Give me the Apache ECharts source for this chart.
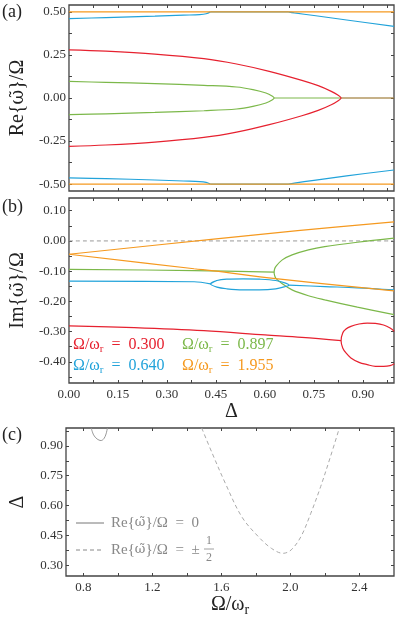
<!DOCTYPE html>
<html>
<head>
<meta charset="utf-8">
<script src="https://cdn.jsdelivr.net/npm/echarts@6/dist/echarts.min.js"></script>
<style>
html, body { margin: 0; padding: 0; background: #fff; }
#main { width: 397px; height: 622px; }
</style>
</head>
<body>
<div id="main"></div>
<script>
// ---- data ----
// panel (a): Re{w}/Omega vs Delta
var reOrangeUp = [[0, 0.5], [0.995, 0.5]];
var reOrangeDn = [[0, -0.5], [0.995, -0.5]];
var reBlueUp = [[0, 0.461], [0.113, 0.467], [0.263, 0.475], [0.35, 0.481], [0.4, 0.484], [0.42, 0.489], [0.433, 0.5]];
var reBlueDn = [[0, -0.464], [0.113, -0.468], [0.263, -0.476], [0.35, -0.482], [0.4, -0.485], [0.42, -0.490], [0.433, -0.5]];
var reBlueFlatUp = [[0.433, 0.5], [0.671, 0.5]];
var reBlueFlatDn = [[0.433, -0.5], [0.671, -0.5]];
var reBlueTailUp = [[0.671, 0.5], [0.69, 0.494], [0.75, 0.479], [0.85, 0.453], [0.995, 0.416]];
var reBlueTailDn = [[0.671, -0.5], [0.69, -0.494], [0.75, -0.478], [0.85, -0.452], [0.995, -0.418]];
var reRedUp = [[0, 0.280], [0.113, 0.272], [0.263, 0.255], [0.413, 0.2285], [0.513, 0.1975], [0.613, 0.155], [0.713, 0.1025],
  [0.763, 0.0715], [0.803, 0.0386], [0.823, 0.017], [0.833, 0]];
var reRedDn = [[0, -0.281], [0.113, -0.273], [0.263, -0.256], [0.413, -0.229], [0.513, -0.198], [0.613, -0.155], [0.713, -0.103],
  [0.763, -0.072], [0.803, -0.039], [0.823, -0.017], [0.833, 0]];
var reRedZero = [[0.833, 0], [0.995, 0]];
var reGreenUp = [[0, 0.096], [0.113, 0.091], [0.263, 0.084], [0.413, 0.0734], [0.513, 0.064], [0.563, 0.049], [0.603, 0.029], [0.623, 0.010], [0.628, 0]];
var reGreenDn = [[0, -0.097], [0.113, -0.092], [0.263, -0.084], [0.413, -0.074], [0.513, -0.064], [0.563, -0.049], [0.603, -0.029], [0.623, -0.010], [0.628, 0]];
var reGreenZero = [[0.628, 0], [0.995, 0]];

// panel (b): Im{w}/Omega vs Delta
var imZero = [[0, 0], [0.995, 0]];
var imOrangeUp = [[0, -0.044], [0.443, 0.006], [0.7, 0.034], [0.995, 0.063]];
var imOrangeDn = [[0, -0.044], [0.383, -0.092], [0.443, -0.099], [0.633, -0.125], [0.995, -0.165]];
var imGreen = [[0, -0.094], [0.383, -0.098], [0.628, -0.1035]];
var imGreenUp = [[0.628, -0.1035], [0.6295, -0.093], [0.633, -0.0848], [0.653, -0.0627], [0.683, -0.0462], [0.733, -0.0297],
  [0.783, -0.0187], [0.883, -0.0044], [0.995, 0.009]];
var imGreenDn = [[0.628, -0.1035], [0.6295, -0.114], [0.633, -0.123], [0.653, -0.142], [0.683, -0.162], [0.733, -0.1815],
  [0.783, -0.195], [0.883, -0.219], [0.995, -0.244]];
var imBlue = [[0, -0.133], [0.383, -0.135], [0.433, -0.142]];
var imBlueLoopUp = [[0.433, -0.142], [0.453, -0.131], [0.483, -0.1265], [0.533, -0.1254], [0.583, -0.1265], [0.633, -0.131], [0.663, -0.1397], [0.673, -0.1463]];
var imBlueLoopDn = [[0.433, -0.142], [0.453, -0.153], [0.483, -0.1584], [0.533, -0.1617], [0.583, -0.1617], [0.633, -0.1584], [0.663, -0.1507], [0.673, -0.1463]];
var imBlueTail = [[0.673, -0.1463], [0.783, -0.151], [0.883, -0.155], [0.995, -0.162]];
var imRed = [[0, -0.281], [0.2, -0.287], [0.413, -0.297], [0.6, -0.311], [0.713, -0.319], [0.833, -0.330]];
var imRedLoopUp = [[0.833, -0.330], [0.838, -0.3046], [0.848, -0.2914], [0.863, -0.2828], [0.888, -0.2749], [0.913, -0.2716],
  [0.938, -0.2729], [0.963, -0.2782], [0.983, -0.2881], [0.996, -0.2993]];
var imRedLoopDn = [[0.833, -0.330], [0.838, -0.354], [0.848, -0.3706], [0.863, -0.387], [0.888, -0.4017], [0.913, -0.4092],
  [0.938, -0.4148], [0.963, -0.4148], [0.983, -0.4125], [0.996, -0.406]];

// panel (c): Delta vs Omega/omega_r
var cSolid = [[0.846, 0.99], [0.86, 0.955], [0.88, 0.935], [0.903, 0.927], [0.92, 0.937], [0.932, 0.96], [0.94, 0.99]];
var cDashed = [[1.486, 0.99], [1.547, 0.863], [1.623, 0.712], [1.718, 0.544], [1.814, 0.444], [1.890, 0.385], [1.957, 0.36],
  [2.004, 0.377], [2.061, 0.444], [2.118, 0.561], [2.175, 0.695], [2.232, 0.846], [2.280, 0.98]];

// ticks
var deltaLabels = [0, 0.15, 0.30, 0.45, 0.60, 0.75, 0.90];
var deltaTicks = [0.075, 0.15, 0.225, 0.30, 0.375, 0.45, 0.525, 0.60, 0.675, 0.75, 0.825, 0.90, 0.975];
var reLabels = [-0.5, -0.25, 0, 0.25, 0.5];
var reTicks = [-0.5, -0.375, -0.25, -0.125, 0, 0.125, 0.25, 0.375, 0.5];
var imLabels = [-0.4, -0.3, -0.2, -0.1, 0, 0.1];
var imTicks = [-0.45, -0.4, -0.35, -0.3, -0.25, -0.2, -0.15, -0.1, -0.05, 0, 0.05, 0.1];
var omLabels = [0.8, 1.2, 1.6, 2.0, 2.4];
var omTicks = [0.8, 1.0, 1.2, 1.4, 1.6, 1.8, 2.0, 2.2, 2.4];
var dcLabels = [0.30, 0.45, 0.60, 0.75, 0.90];
var dcTicks = [0.30, 0.375, 0.45, 0.525, 0.60, 0.675, 0.75, 0.825, 0.90, 0.975];

var legendB = [
  { text: '0.300', color: '#e6212f', x: 73, y: 345 },
  { text: '0.897', color: '#7cb84a', x: 182, y: 345 },
  { text: '0.640', color: '#22a3da', x: 73, y: 366 },
  { text: '1.955', color: '#f5991f', x: 182, y: 366 }
];

var RED = '#e6212f', GREEN = '#7cb84a', BLUE = '#22a3da', ORANGE = '#f5991f';
var FONT = 'Liberation Serif';
var FRAME = '#444';

var myChart = echarts.init(document.getElementById('main'), null, { renderer: 'canvas' });

function fmt2(v) { return '{t|' + (Math.abs(v) < 1e-9 ? 0 : v).toFixed(2) + '}'; }
function fmt1(v) { return '{t|' + v.toFixed(1) + '}'; }
var tickRich = { t: { fontFamily: FONT, fontSize: 13, color: '#333' } };

// branches meeting at a tip -> one path through the tip
function throughTipEnd(a, b) { return a.concat(b.slice(0, -1).reverse()); }
function throughTipStart(a, b) { return a.slice().reverse().concat(b.slice(1)); }

function xAx(g, pos, min, max, ticks, labels, fmt, name, nameOpt) {
  var ax = {
    type: 'value', gridIndex: g, position: pos, min: min, max: max,
    axisLine: { show: false, onZero: false }, splitLine: { show: false },
    axisTick: { show: true, inside: true, length: 3, customValues: ticks, lineStyle: { color: FRAME, width: 1 } },
    axisLabel: { show: !!labels, customValues: labels || [], formatter: fmt, rich: tickRich, fontFamily: FONT, fontSize: 13, color: '#333', margin: 5 }
  };
  if (name) {
    ax.name = name;
    ax.nameLocation = 'middle';
    for (var k in nameOpt) ax[k] = nameOpt[k];
  }
  return ax;
}
function yAx(g, pos, min, max, ticks, labels, fmt, name, nameOpt) {
  var ax = xAx(g, pos, min, max, ticks, labels, fmt, name, nameOpt);
  ax.axisLabel.margin = 3;
  return ax;
}

function line(g, data, color, opt) {
  var s = {
    type: 'line', xAxisIndex: 2 * g, yAxisIndex: 2 * g, data: data,
    symbol: 'none', showSymbol: false, silent: true, smooth: 0.35,
    lineStyle: { color: color, width: 1.2 }, clip: true
  };
  if (opt) for (var k in opt) s[k] = opt[k];
  return s;
}

var richSub = function (size, color) {
  return {
    m: { fontFamily: FONT, fontSize: size, lineHeight: size + 4, color: color },
    s: { fontFamily: FONT, fontSize: Math.round(size * 0.7), lineHeight: 8, verticalAlign: 'bottom', color: color }
  };
};
var richOmega = function (size, color) {
  return {
    a: { fontFamily: FONT, fontSize: size, color: color },
    w: { fontFamily: 'DejaVu Serif', fontSize: size - 2, color: color }
  };
};
var nameStyleOmega = { fontFamily: FONT, fontSize: 20, color: '#222', rich: richOmega(20, '#222') };

var graphics = [
  { type: 'text', left: 2, top: 3, style: { text: '(a)', font: '18px ' + FONT, fill: '#222' } },
  { type: 'text', left: 2, top: 198, style: { text: '(b)', font: '18px ' + FONT, fill: '#222' } },
  { type: 'text', left: 2, top: 426, style: { text: '(c)', font: '18px ' + FONT, fill: '#222' } },
  // legend of panel (c)
  { type: 'line', shape: { x1: 76, y1: 523, x2: 104, y2: 523 }, style: { stroke: '#777', lineWidth: 1 } },
  { type: 'line', shape: { x1: 76, y1: 550, x2: 104, y2: 550 }, style: { stroke: '#888', lineWidth: 1, lineDash: [4, 3] } },
  { type: 'text', x: 111, y: 523, style: { text: '{a|Re{}{w|ω̃}}/Ω  =  0', rich: richOmega(15, '#888'), font: '15px ' + FONT, fill: '#888', verticalAlign: 'middle' } },
  { type: 'text', x: 111, y: 550, style: { text: '{a|Re{}{w|ω̃}}/Ω  =  ±', rich: richOmega(15, '#888'), font: '15px ' + FONT, fill: '#888', verticalAlign: 'middle' } },
  { type: 'text', x: 209, y: 541, style: { text: '1', font: '12px ' + FONT, fill: '#888', align: 'center', verticalAlign: 'middle' } },
  { type: 'line', shape: { x1: 204, y1: 549, x2: 214, y2: 549 }, style: { stroke: '#888', lineWidth: 0.8 } },
  { type: 'text', x: 209, y: 558, style: { text: '2', font: '12px ' + FONT, fill: '#888', align: 'center', verticalAlign: 'middle' } }
];
legendB.forEach(function (l) {
  graphics.push({
    type: 'text', x: l.x, y: l.y,
    style: { text: '{m|Ω/ω}{s|r}{m|  =  ' + l.text + '}', rich: richSub(16, l.color), fill: l.color, verticalAlign: 'middle' }
  });
});

var option = {
  backgroundColor: '#fff',
  animation: false,
  textStyle: { fontFamily: FONT },
  grid: [
    { left: 62, top: 5, width: 332, height: 186, show: true, borderColor: FRAME, borderWidth: 1.3, backgroundColor: 'transparent' },
    { left: 62, top: 198, width: 332, height: 185, show: true, borderColor: FRAME, borderWidth: 1.3, backgroundColor: 'transparent' },
    { left: 62, top: 428, width: 332, height: 148, show: true, borderColor: FRAME, borderWidth: 1.3, backgroundColor: 'transparent' }
  ],
  xAxis: [
    xAx(0, 'bottom', 0, 0.995, deltaTicks, null, fmt2),
    xAx(0, 'top', 0, 0.995, deltaTicks, null, fmt2),
    xAx(1, 'bottom', 0, 0.995, deltaTicks, deltaLabels, fmt2, 'Δ', { nameGap: 18, nameTextStyle: { fontFamily: FONT, fontSize: 20, color: '#222' } }),
    xAx(1, 'top', 0, 0.995, deltaTicks, null, fmt2),
    xAx(2, 'bottom', 0.7, 2.6, omTicks, omLabels, fmt1, '{m|Ω/ω}{s|r}', { nameGap: 13, nameTextStyle: { rich: richSub(20, '#222') } }),
    xAx(2, 'top', 0.7, 2.6, omTicks, null, fmt1)
  ],
  yAxis: [
    yAx(0, 'left', -0.54, 0.54, reTicks, reLabels, fmt2, '{a|Re{}{w|ω̃}}/Ω', { nameGap: 38, nameTextStyle: nameStyleOmega }),
    yAx(0, 'right', -0.54, 0.54, reTicks, null, fmt2),
    yAx(1, 'left', -0.47, 0.142, imTicks, imLabels, fmt2, '{a|Im{}{w|ω̃}}/Ω', { nameGap: 38, nameTextStyle: nameStyleOmega }),
    yAx(1, 'right', -0.47, 0.142, imTicks, null, fmt2),
    yAx(2, 'left', 0.246, 0.99, dcTicks, dcLabels, fmt2, 'Δ', { nameGap: 38, nameTextStyle: { fontFamily: FONT, fontSize: 20, color: '#222' } }),
    yAx(2, 'right', 0.246, 0.99, dcTicks, null, fmt2)
  ],
  series: [
    // (a)
    line(0, reBlueUp, BLUE), line(0, reBlueDn, BLUE),
    line(0, reBlueFlatUp, BLUE), line(0, reBlueFlatDn, BLUE),
    line(0, reBlueTailUp, BLUE), line(0, reBlueTailDn, BLUE),
    line(0, reOrangeUp, ORANGE), line(0, reOrangeDn, ORANGE),
    line(0, throughTipEnd(reGreenUp, reGreenDn), GREEN), line(0, reGreenZero, GREEN),
    line(0, throughTipEnd(reRedUp, reRedDn), RED),
    line(0, reRedZero, RED, { lineStyle: { color: RED, width: 1.2, opacity: 0.45 } }),
    // (b)
    line(1, imZero, '#999', { lineStyle: { color: '#999', width: 1, type: [4, 3] } }),
    line(1, imRed, RED), line(1, throughTipStart(imRedLoopUp, imRedLoopDn), RED),
    line(1, imGreen, GREEN), line(1, throughTipStart(imGreenUp, imGreenDn), GREEN),
    line(1, imBlue, BLUE), line(1, throughTipEnd(imBlueLoopUp, imBlueLoopDn).concat([imBlueLoopUp[1]]), BLUE), line(1, imBlueTail, BLUE),
    line(1, imOrangeUp, ORANGE), line(1, imOrangeDn, ORANGE),
    // (c)
    line(2, cSolid, '#999', { lineStyle: { color: '#999', width: 1 } }),
    line(2, cDashed, '#aaa', { lineStyle: { color: '#aaa', width: 1, type: [4, 3] } })
  ],
  graphic: graphics
};

myChart.setOption(option);
window.addEventListener('resize', function () { myChart.resize(); });
</script>
</body>
</html>
